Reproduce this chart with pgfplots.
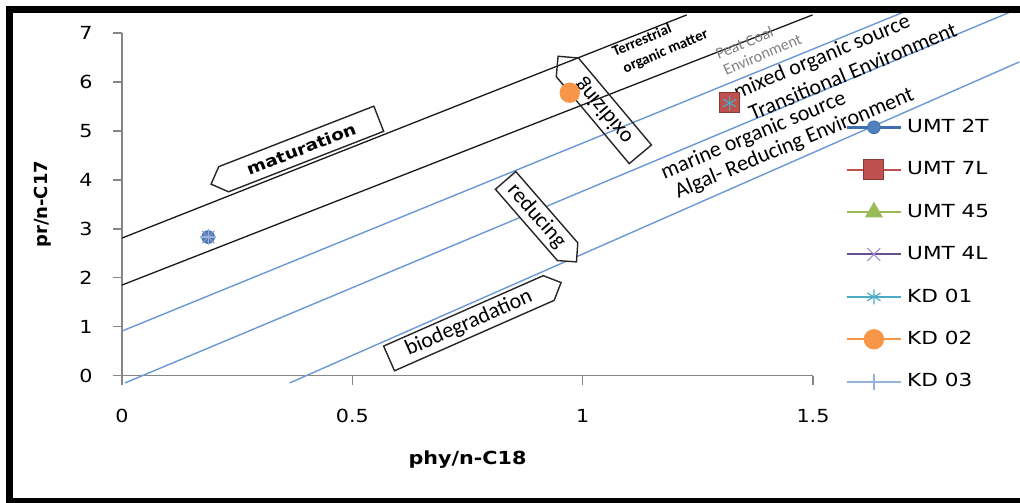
\documentclass[border=0pt]{standalone}
\usepackage{fontspec}
\setmainfont{DejaVu Sans}[FakeStretch=1.15]
\newfontfamily\legfont{DejaVu Sans}[FakeStretch=1.2]
\newfontfamily\ylabfont{DejaVu Sans}
\newfontfamily\carlito{Carlito}
\usepackage{pgfplots}
\pgfplotsset{compat=1.18}
\usetikzlibrary{shapes.symbols}

\definecolor{axisgray}{HTML}{868686}
\definecolor{guideblue}{HTML}{6A98D4}
\definecolor{cA}{HTML}{3E6DB0}
\definecolor{cAm}{HTML}{4F81BD}
\definecolor{cB}{HTML}{C0504D}
\definecolor{cBm}{HTML}{8C3836}
\definecolor{cC}{HTML}{9BBB59}
\definecolor{cD}{HTML}{6A4C93}
\definecolor{cDm}{HTML}{A08ACB}
\definecolor{cE}{HTML}{4BACC6}
\definecolor{cF}{HTML}{F79646}
\definecolor{cG}{HTML}{95B3D7}

\begin{document}
\begin{tikzpicture}[x=1pt,y=1pt]
\begin{axis}[
  at={(61pt,63.2pt)}, anchor=south west,
  scale only axis, width=345.5pt, height=171.3pt,
  xmin=0, xmax=1.5, ymin=0, ymax=7,
  axis lines=left,
  axis line style={draw=axisgray, line width=0.75pt, -},
  xtick={0,0.5,1,1.5}, ytick={0,1,2,3,4,5,6,7},
  tick align=outside, major tick length=4.5pt,
  tick style={draw=axisgray, line width=0.75pt},
  /pgf/number format/assume math mode=true,
  tick label style={font=\fontsize{9}{10}\selectfont, inner sep=0pt},
  yticklabel style={anchor=east, xshift=-10pt},
  xticklabel style={anchor=north, yshift=-12pt},
  xlabel={phy/n-C18},
  xlabel style={font=\bfseries\fontsize{9}{10}\selectfont, at={(axis description cs:0.5,-0.245)}, anchor=center},
  ylabel={pr/n-C17},
  ylabel style={font=\ylabfont\bfseries\fontsize{9}{10}\selectfont, at={(axis description cs:-0.1143,0.5)}, anchor=center},
  clip=false,
  legend style={at={(1.046,0.761)}, anchor=north west, draw=none, fill=none, inner sep=0pt,
    font=\legfont\fontsize{9}{10}\selectfont, row sep=9.2pt, column sep=1.3pt,
    nodes={minimum height=12pt, inner sep=1pt}},
  legend cell align=left,
  legend image code/.code={\draw[mark repeat=2,mark phase=2] plot coordinates {(0cm,0cm) (0.48cm,0cm) (0.96cm,0cm)};},
]
% guide lines
\addplot[forget plot, black!90, line width=0.65pt] coordinates {(0,2.81) (1.226,7.37)};
\addplot[forget plot, black!90, line width=0.65pt] coordinates {(0,1.85) (1.499,7.37)};
\addplot[forget plot, guideblue, line width=0.7pt] coordinates {(0,0.91) (1.70,7.44)};
\addplot[forget plot, guideblue, line width=0.7pt] coordinates {(0.0065,-0.15) (1.926,7.42)};
\addplot[forget plot, guideblue, line width=0.7pt] coordinates {(0.364,-0.15) (1.948,6.41)};

% annotation boxes
\node[draw=black!85, fill=white, line width=0.7pt, signal, signal to=west, rotate=21.3,
  minimum width=90pt, minimum height=13.5pt, inner sep=1pt,
  font=\bfseries\fontsize{8}{9}\selectfont] at (axis cs:0.389,4.63) {maturation};
\node[draw=black!85, line width=0.7pt, signal, signal to=east, rotate=130,
  minimum width=64pt, minimum height=14.5pt, inner sep=1pt,
  font=\carlito\fontsize{11}{12}\selectfont] at (axis cs:1.046,5.41) {oxidizing};
\node[draw=black!85, fill=white, line width=0.7pt, signal, signal to=east, rotate=-49,
  minimum width=54pt, minimum height=13.5pt, inner sep=1pt,
  font=\carlito\fontsize{11}{12}\selectfont] at (axis cs:0.900,3.26) {reducing};
\node[draw=black!85, fill=white, line width=0.7pt, signal, signal to=east, rotate=23.8,
  minimum width=94pt, minimum height=13.5pt, inner sep=1pt,
  font=\carlito\fontsize{11}{12}\selectfont] at (axis cs:0.753,1.07) {biodegradation};

% region texts
\node[rotate=23, font=\carlito\bfseries\fontsize{7.5}{8}\selectfont, inner sep=0pt] at (axis cs:1.128,6.86) {Terrestrial};
\node[rotate=23, font=\carlito\bfseries\fontsize{7.5}{8}\selectfont, inner sep=0pt] at (axis cs:1.180,6.62) {organic matter};
\node[rotate=23, text=black!50, font=\carlito\fontsize{8}{9}\selectfont, inner sep=0pt] at (axis cs:1.351,6.80) {Peat Coal};
\node[rotate=23, text=black!50, font=\carlito\fontsize{8}{9}\selectfont, inner sep=0pt] at (axis cs:1.390,6.56) {Environment};
\node[rotate=22.6, font=\carlito\fontsize{11}{12}\selectfont, inner sep=0pt] at (axis cs:1.520,6.50) {mixed organic source};
\node[rotate=22.6, font=\carlito\fontsize{11}{12}\selectfont, inner sep=0pt] at (axis cs:1.586,6.22) {Transitional Environment};
\node[rotate=22.6, font=\carlito\fontsize{11}{12}\selectfont, inner sep=0pt] at (axis cs:1.371,4.90) {marine organic source};
\node[rotate=22.6, font=\carlito\fontsize{11}{12}\selectfont, inner sep=0pt] at (axis cs:1.460,4.74) {Algal- Reducing Environment};

% data series
\addplot[cA, line width=1.4pt, mark=*, mark size=3.2pt, mark options={fill=cAm, draw=cA, line width=0.4pt}]
  coordinates {(0.187,2.83)};
\addlegendentry{UMT 2T}
\addplot[cB, line width=1pt, mark=square*, mark size=5pt, mark options={fill=cB, draw=cBm, line width=0.5pt}]
  coordinates {(1.319,5.57)};
\addlegendentry{UMT 7L}
\addplot[cC, line width=1pt, mark=triangle*, mark size=4.2pt, mark options={fill=cC, draw=cC}]
  coordinates {(0.972,5.76)};
\addlegendentry{UMT 45}
\addplot[cD, line width=1pt, mark=x, mark size=4.5pt, mark options={draw=cDm, line width=0.5pt}]
  coordinates {(0.187,2.83)};
\addlegendentry{UMT 4L}
\addplot[cE, line width=1pt, mark=asterisk, mark size=3.8pt, mark options={draw=cE, line width=0.6pt}]
  coordinates {(1.319,5.57)};
\addlegendentry{KD 01}
\addplot[cF, line width=1pt, mark=*, mark size=4.6pt, mark options={fill=cF, draw=cF}]
  coordinates {(0.972,5.78)};
\addlegendentry{KD 02}
\addplot[cG, line width=1pt, mark=+, mark size=4pt, mark options={draw=cG, line width=0.6pt}]
  coordinates {(0.187,2.83)};
\addlegendentry{KD 03}
\end{axis}
% outer frame
\draw[black, line width=3.5pt] (4.75pt,-5pt) -- (4.75pt,246.25pt);
\draw[black, line width=3.5pt] (3pt,246.25pt) -- (520pt,246.25pt);
\draw[black, line width=2.5pt] (3pt,0.5pt) -- (520pt,0.5pt);
\pgfresetboundingbox
\path (0pt,0pt) rectangle (510pt,251pt);
\end{tikzpicture}
\end{document}
